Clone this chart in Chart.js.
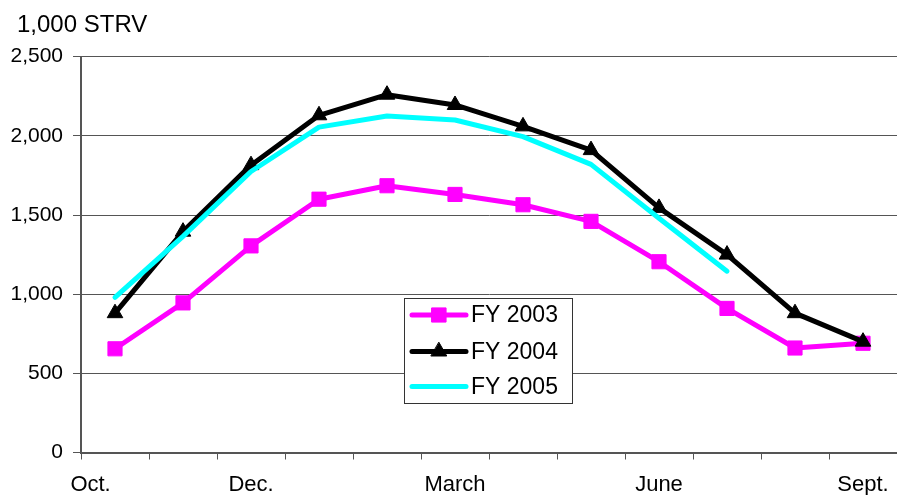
<!DOCTYPE html>
<html>
<head>
<meta charset="utf-8">
<script src="https://cdn.jsdelivr.net/npm/chart.js@4.4.1/dist/chart.umd.min.js"></script>
<style>
  html, body { margin: 0; padding: 0; background: #fff; overflow: hidden; }
  #wrap { position: relative; width: 897px; height: 495px; }
</style>
</head>
<body>
<div id="wrap"><canvas id="chart"></canvas></div>
<script>
// Months of the fiscal year (October through September)
const months = ['Oct.', 'Nov.', 'Dec.', 'Jan.', 'Feb.', 'March', 'April', 'May', 'June', 'July', 'Aug.', 'Sept.'];
// Month names that get a label under the axis
const labelledMonths = ['Oct.', 'Dec.', 'March', 'June', 'Sept.'];

// Monthly values, thousands of STRV
const fy2003 = [655, 945, 1305, 1600, 1685, 1630, 1565, 1460, 1205, 910, 660, 690];
const fy2004 = [880, 1395, 1815, 2130, 2260, 2195, 2060, 1910, 1545, 1250, 880, 700];
const fy2005 = [980, 1365, 1775, 2055, 2125, 2100, 1995, 1820, 1480, 1145, null, null];

// Value axis
const yMin = 0;
const yMax = 2500;
const yStep = 500;
const unitLabel = '1,000 STRV';

const FONT = "'Liberation Sans', Arial, Helvetica, sans-serif";
Chart.defaults.font.family = FONT;
Chart.defaults.color = '#000';

const AXIS_GRAY = '#555555';

// Simple marker drawer used for the boxed legend samples
function drawMarker(ctx, style, x, y, r, fill) {
  ctx.save();
  ctx.fillStyle = fill;
  ctx.strokeStyle = fill;
  ctx.lineWidth = 1;
  ctx.beginPath();
  if (style === 'rect') {
    const s = r * Math.SQRT1_2;
    ctx.rect(x - s, y - s, 2 * s, 2 * s);
  } else if (style === 'triangle') {
    ctx.moveTo(x, y - r);
    ctx.lineTo(x + r * Math.sqrt(3) / 2, y + r / 2);
    ctx.lineTo(x - r * Math.sqrt(3) / 2, y + r / 2);
    ctx.closePath();
  }
  ctx.fill();
  ctx.stroke();
  ctx.restore();
}

// Unit caption above the value axis
const unitCaption = {
  id: 'unitCaption',
  afterDraw(chart, args, opts) {
    const ctx = chart.ctx;
    ctx.save();
    ctx.fillStyle = '#000';
    ctx.font = opts.fontSize + 'px ' + FONT;
    ctx.textAlign = 'left';
    ctx.textBaseline = 'alphabetic';
    ctx.fillText(opts.text, opts.x, opts.baseline);
    ctx.restore();
  }
};

// Boxed legend placed inside the plot area
const boxLegend = {
  id: 'boxLegend',
  afterDraw(chart, args, opts) {
    const ctx = chart.ctx;
    ctx.save();
    ctx.fillStyle = '#fff';
    ctx.fillRect(opts.x, opts.y, opts.w, opts.h);
    ctx.strokeStyle = '#333';
    ctx.lineWidth = 1;
    ctx.strokeRect(opts.x + 0.5, opts.y + 0.5, opts.w, opts.h);
    chart.data.datasets.forEach((ds, i) => {
      const cy = opts.rows[i];
      ctx.strokeStyle = ds.borderColor;
      ctx.lineWidth = 5;
      ctx.lineCap = 'round';
      ctx.beginPath();
      ctx.moveTo(opts.lineX0, cy);
      ctx.lineTo(opts.lineX1, cy);
      ctx.stroke();
      if (ds.pointRadius > 0) {
        drawMarker(ctx, ds.pointStyle, (opts.lineX0 + opts.lineX1) / 2, cy, ds.pointRadius, ds.pointBackgroundColor);
      }
      ctx.fillStyle = '#000';
      ctx.font = opts.fontSize + 'px ' + FONT;
      ctx.textAlign = 'left';
      ctx.textBaseline = 'middle';
      ctx.fillText(ds.label, opts.textX, cy + 1);
    });
    ctx.restore();
  }
};

new Chart(document.getElementById('chart'), {
  type: 'line',
  data: {
    labels: months,
    datasets: [
      {
        label: 'FY 2003',
        data: fy2003,
        borderColor: '#FF00FF',
        backgroundColor: '#FF00FF',
        borderWidth: 5,
        pointStyle: 'rect',
        pointRadius: 10,
        pointBorderWidth: 1,
        pointBackgroundColor: '#FF00FF',
        pointBorderColor: '#FF00FF',
        order: 2
      },
      {
        label: 'FY 2004',
        data: fy2004,
        borderColor: '#000000',
        backgroundColor: '#000000',
        borderWidth: 5,
        pointStyle: 'triangle',
        pointRadius: 9,
        pointBorderWidth: 1,
        pointBackgroundColor: '#000000',
        pointBorderColor: '#000000',
        order: 1
      },
      {
        label: 'FY 2005',
        data: fy2005,
        borderColor: '#00FFFF',
        backgroundColor: '#00FFFF',
        borderWidth: 5,
        pointRadius: 0,
        pointStyle: 'circle',
        pointBackgroundColor: '#00FFFF',
        spanGaps: false,
        order: 0
      }
    ]
  },
  options: {
    responsive: true,
    maintainAspectRatio: false,
    animation: false,
    devicePixelRatio: 1,
    elements: {
      line: { tension: 0, borderJoinStyle: 'round', borderCapStyle: 'round' }
    },
    layout: { autoPadding: false, padding: { left: 0, right: -2, top: 56.7, bottom: 0 } },
    plugins: {
      legend: { display: false },
      tooltip: { enabled: false },
      title: { display: false },
      unitCaption: { text: unitLabel, x: 17, baseline: 32.3, fontSize: 24 },
      boxLegend: {
        x: 404, y: 298, w: 168, h: 105,
        rows: [315, 351.5, 386.5],
        lineX0: 412, lineX1: 466, textX: 471,
        fontSize: 23
      }
    },
    scales: {
      x: {
        type: 'category',
        offset: true,
        grid: {
          offset: true,
          drawOnChartArea: false,
          drawTicks: true,
          tickLength: 7,
          color: AXIS_GRAY,
          lineWidth: 1
        },
        border: { display: true, color: AXIS_GRAY, width: 2 },
        ticks: {
          autoSkip: false,
          maxRotation: 0,
          minRotation: 0,
          padding: 12,
          font: { size: 22 },
          color: '#000',
          callback: function (value, index) {
            const m = months[index];
            if (!labelledMonths.includes(m)) return '';
            // the first month's label sits to the left, against the value axis
            return index === 0 ? m + '        ' : m;
          }
        },
        afterFit: function (scale) {
          scale.height = 42.5;
          scale.paddingLeft = 0;
          scale.paddingRight = 0;
        }
      },
      y: {
        min: yMin,
        max: yMax,
        grid: {
          color: AXIS_GRAY,
          lineWidth: 1,
          drawTicks: true,
          tickLength: 8
        },
        border: { display: true, color: AXIS_GRAY, width: 2 },
        ticks: {
          stepSize: yStep,
          padding: 10,
          font: { size: 21 },
          color: '#000',
          callback: function (v) { return Number(v).toLocaleString('en-US'); }
        },
        afterFit: function (scale) {
          scale.width = 81;
          scale.paddingTop = 0;
          scale.paddingBottom = 0;
        }
      }
    }
  },
  plugins: [unitCaption, boxLegend]
});
</script>
</body>
</html>
